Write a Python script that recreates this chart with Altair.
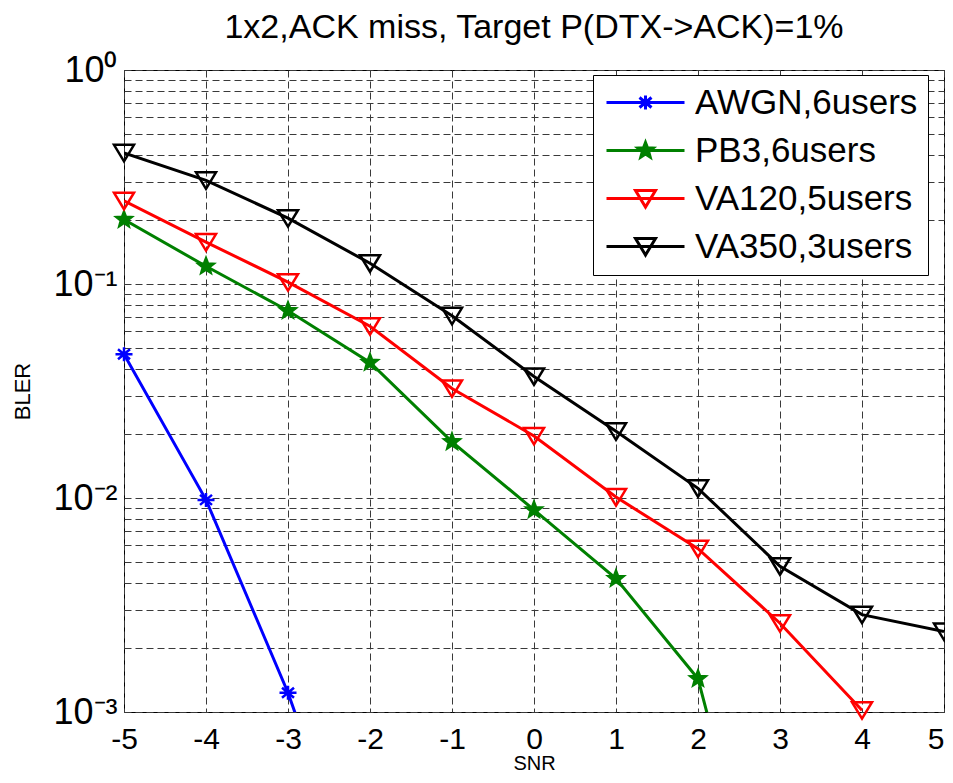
import math
import altair as alt
import pandas as pd

FONT = "Liberation Sans"

series_names = ["AWGN,6users", "PB3,6users", "VA120,5users", "VA350,3users"]
series_colors = ["#0000FF", "#008000", "#FF0000", "#000000"]
series_fills = ["transparent", "#008000", "transparent", "transparent"]

snr_awgn = [-5, -4, -3, -2]
bler_awgn = [0.047, 0.0098, 0.00123, 0.0001]

snr_pb3 = [-5, -4, -3, -2, -1, 0, 1, 2, 3]
bler_pb3 = [0.20, 0.121, 0.075, 0.043, 0.0183, 0.0088, 0.0042, 0.00143, 0.00005]

snr_va120 = [-5, -4, -3, -2, -1, 0, 1, 2, 3, 4]
bler_va120 = [0.245, 0.157, 0.102, 0.0635, 0.0325, 0.0195, 0.0101, 0.0058, 0.0026, 0.00102]

snr_va350 = [-5, -4, -3, -2, -1, 0, 1, 2, 3, 4, 5]
bler_va350 = [0.41, 0.305, 0.203, 0.125, 0.071, 0.037, 0.0205, 0.0111, 0.0048, 0.00285, 0.00238]

x_ticks = [-5, -4, -3, -2, -1, 0, 1, 2, 3, 4, 5]
y_ticks = [d * 10.0 ** e for e in (-3, -2, -1) for d in range(1, 10)] + [1.0]

rows = []
for name, xs, ys in zip(series_names,
                        [snr_awgn, snr_pb3, snr_va120, snr_va350],
                        [bler_awgn, bler_pb3, bler_va120, bler_va350]):
    for x, y in zip(xs, ys):
        rows.append({"series": name, "snr": x, "bler": y})
df = pd.DataFrame(rows)


def marker_shapes(dx):
    def f(v):
        return f"{v + dx:.3f}"
    asterisk = (f"M{f(-0.85)},0H{f(0.85)}M{f(0)},-0.7V0.7"
                f"M{f(-0.6)},-0.5L{f(0.6)},0.5M{f(-0.6)},0.5L{f(0.6)},-0.5")
    pts = []
    for i in range(10):
        r = 0.8 if i % 2 == 0 else 0.34
        a = -math.pi / 2 + i * math.pi / 5
        pts.append(f"{f(r*math.cos(a))},{r*math.sin(a):.3f}")
    star = "M" + "L".join(pts) + "Z"
    tri = f"M{f(-1)},-0.8L{f(1)},-0.8L{f(0)},0.85Z"
    return [asterisk, star, tri, tri]


marker_paths = marker_shapes(0.0)
legend_paths = ["M-1.4,0H6.4" + p for p in marker_shapes(2.5)]

x_enc = alt.X("snr:Q", scale=alt.Scale(domain=[-5, 5], nice=False),
              axis=alt.Axis(values=x_ticks, title="SNR", labelExpr="datum.value + ''",
                            labelAlign={"condition": {"test": "datum.value == 5", "value": "right"},
                                        "value": "center"},
                            titleBaseline="bottom", titleY=61))
y_enc = alt.Y("bler:Q", scale=alt.Scale(type="log", domain=[0.001, 1], nice=False),
              axis=alt.Axis(values=y_ticks, title="BLER",
                            labelExpr="abs(log(datum.value)/LN10 - round(log(datum.value)/LN10)) < 0.001 ? "
                                      "(round(log(datum.value)/LN10) == 0 ? '10⁰' : "
                                      "round(log(datum.value)/LN10) == -1 ? '10⁻¹' : "
                                      "round(log(datum.value)/LN10) == -2 ? '10⁻²' : '10⁻³') : ''"))


def cscale():
    return alt.Scale(domain=series_names, range=series_colors)


def fscale():
    return alt.Scale(domain=series_names, range=series_fills)


base = alt.Chart(df)

lines = base.mark_line(strokeWidth=3, clip=True).encode(
    x=x_enc, y=y_enc,
    color=alt.Color("series:N", scale=cscale(), legend=None),
)

points = base.mark_point(filled=False, strokeWidth=2.5, opacity=1, size=400).transform_filter(
    "datum.bler >= 0.00099"
).encode(
    x=x_enc, y=y_enc,
    color=alt.Color("series:N", scale=cscale(), legend=None),
    fill=alt.Fill("series:N", scale=fscale(), legend=None),
    shape=alt.Shape("series:N", scale=alt.Scale(domain=series_names, range=marker_paths), legend=None),
)

leg = alt.Legend(orient="none", legendX=469, legendY=5, title=None,
                 labelFontSize=35, labelFont=FONT, labelColor="black", labelLimit=600,
                 symbolSize=400, symbolStrokeWidth=3, symbolOffset=0, labelOffset=57,
                 padding=10, rowPadding=12, columnPadding=0, strokeColor="black", fillColor="white")

legend_layer = alt.Chart(df).mark_point(filled=False, strokeWidth=3, opacity=1, size=400).transform_filter(
    "false"
).encode(
    x=x_enc, y=y_enc,
    color=alt.Color("series:N", scale=cscale(), legend=leg),
    fill=alt.Fill("series:N", scale=fscale(), legend=leg),
    shape=alt.Shape("series:N", scale=alt.Scale(domain=series_names, range=legend_paths), legend=leg),
)

chart = alt.layer(lines, points, legend_layer).resolve_scale(
    shape="independent", color="independent", fill="independent"
).properties(
    width=820, height=642,
    autosize=alt.AutoSizeParams(type="none"),
    padding={"left": 116, "top": 62, "right": 1, "bottom": 62},
    title=alt.Title("1x2,ACK miss, Target P(DTX->ACK)=1%", fontSize=34, font=FONT,
                    fontWeight="normal", color="black", anchor="middle", frame="group", offset=7),
).configure_view(stroke="black", strokeWidth=1).configure_axis(
    labelFont=FONT, labelColor="black", titleFont=FONT, titleColor="black", titleFontWeight="normal",
    tickSize=0, domain=False, grid=True, gridColor="#3a3a3a", gridDash=[7, 4], gridWidth=1,
    labelOverlap=False, labelFlush=False,
).configure_axisX(labelFontSize=30, labelPadding=12, titleFontSize=20).configure_axisY(
    labelFontSize=36, labelPadding=7, titleFontSize=22, titlePadding=18
)

chart.save("out.html", embed_options={"renderer": "svg", "actions": False})
